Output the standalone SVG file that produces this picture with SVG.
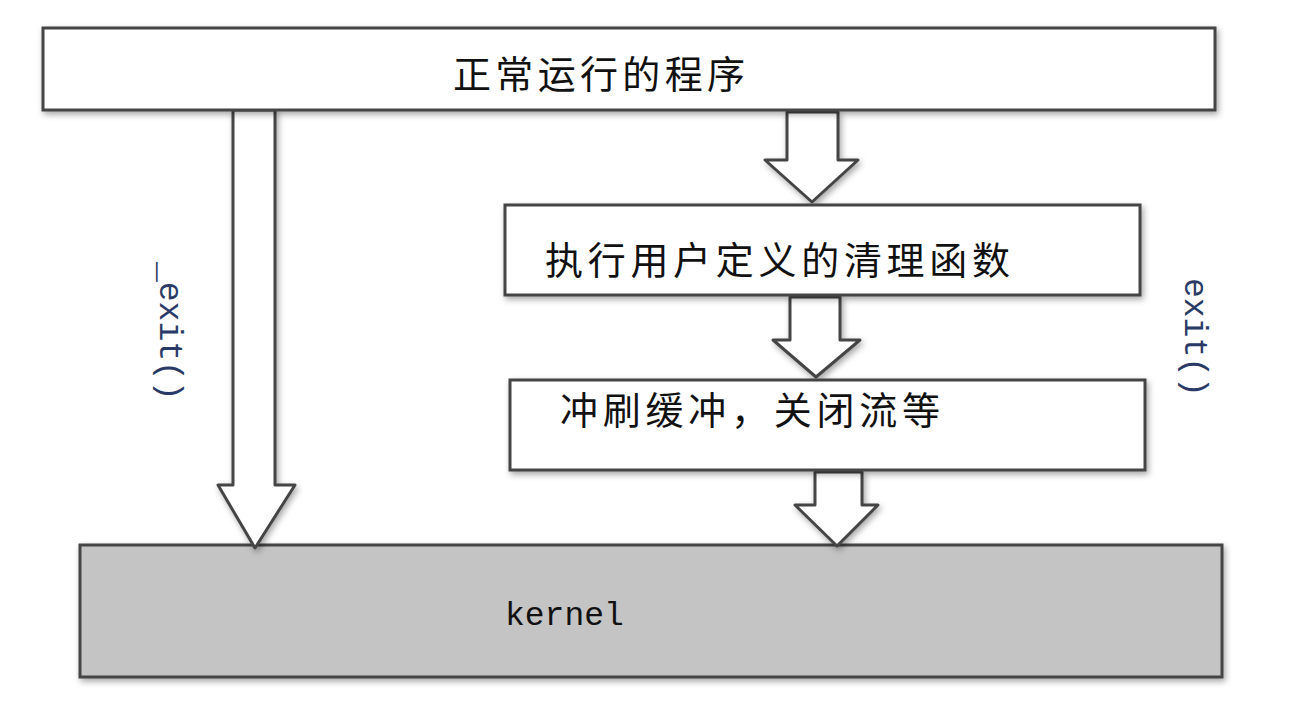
<svg xmlns="http://www.w3.org/2000/svg" width="1291" height="721" viewBox="0 0 1291 721">
<defs>
<filter id="sh" x="-10%" y="-10%" width="120%" height="130%"><feDropShadow dx="2" dy="3" stdDeviation="3" flood-color="#000" flood-opacity="0.35"/></filter>
</defs>
<style>
.box{fill:#fff;stroke:#444;stroke-width:3;filter:url(#sh)}
.arr{fill:#fff;stroke:#444;stroke-width:3;stroke-linejoin:round;filter:url(#sh)}
.t{font-family:"Noto Sans CJK SC",sans-serif;font-size:38px;fill:#111}
.m{font-family:"Liberation Mono",monospace;font-size:33px;fill:#2a3a66}
</style>
<rect width="1291" height="721" fill="#fff"/>
<g id="kernel"><rect class="box" x="80" y="545" width="1142" height="132" style="fill:#c4c4c4"/><text class="m" x="505" y="625" style="fill:#111">kernel</text></g>
<g id="connectors">
<path class="arr" d="M233,110 H275 V485 H295 L255,548 L218,485 H233 Z"/>
<path class="arr" d="M787,112 H838 V160 H858 L812,202 L765,160 H787 Z"/>
<path class="arr" d="M790,297 H840 V340 H860 L816,377 L773,340 H790 Z"/>
<path class="arr" d="M815,472 H862 V505 H878 L837,546 L795,505 H815 Z"/>
<text class="m" transform="translate(160,262) rotate(90)">_exit()</text>
<text class="m" transform="translate(1185,278) rotate(90)">exit()</text>
</g>
<g id="top"><rect class="box" x="43" y="28" width="1172" height="82"/><text class="t" x="453" y="88" textLength="292">正常运行的程序</text></g>
<g id="cleanup"><rect class="box" x="505" y="205" width="635" height="90"/><text class="t" x="545" y="274" textLength="465">执行用户定义的清理函数</text></g>
<g id="flush"><rect class="box" x="510" y="380" width="635" height="90"/><text class="t" x="560" y="424" textLength="380">冲刷缓冲，关闭流等</text></g>
</svg>
